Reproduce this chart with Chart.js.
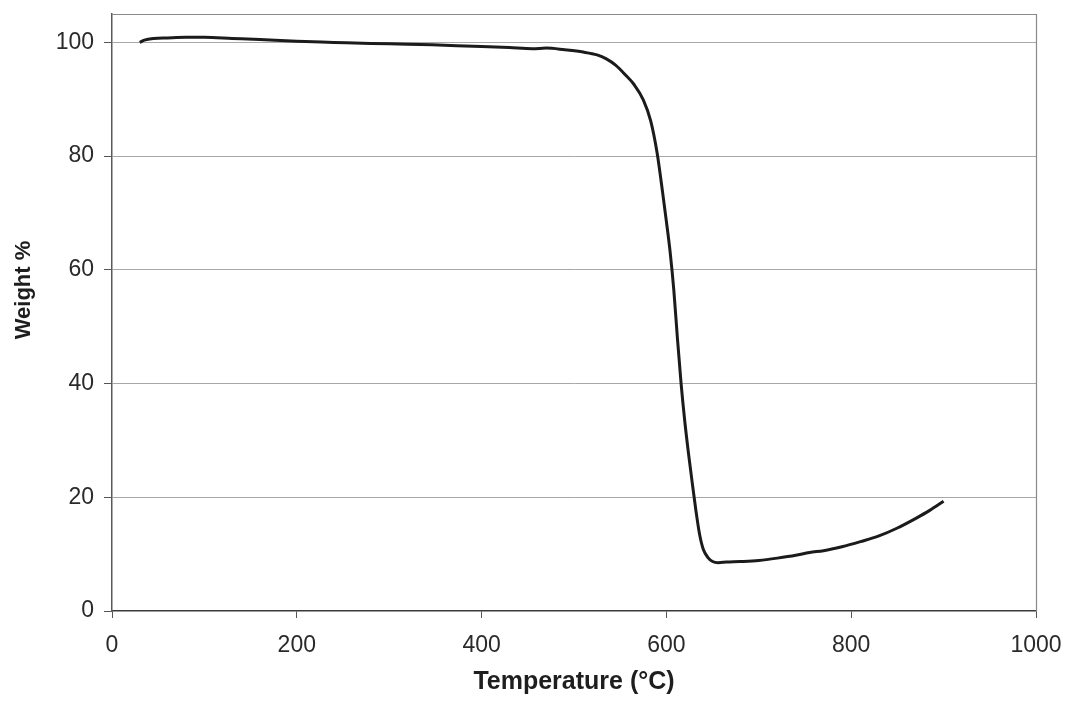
<!DOCTYPE html>
<html>
<head>
<meta charset="utf-8">
<script src="https://cdn.jsdelivr.net/npm/chart.js@4.4.1/dist/chart.umd.min.js"></script>
<style>
html,body{margin:0;padding:0;background:#fff;}
#wrap{width:1067px;height:705px;}
</style>
</head>
<body>
<div id="wrap"><canvas id="c" width="1067" height="705"></canvas></div>
<script>
const temperatures = [30, 35, 45, 60, 80, 100, 130, 160, 200, 240, 280, 320, 360, 400, 430, 455, 470, 490, 510, 525, 535, 545, 555, 565, 575, 583, 590, 596, 600, 604, 608, 612, 616, 620, 624, 628, 632, 636, 640, 645, 650, 656, 665, 680, 700, 720, 740, 755, 770, 790, 810, 830, 850, 870, 885, 900];
const weights = [100.0, 100.4, 100.7, 100.8, 100.9, 100.9, 100.7, 100.5, 100.2, 100.0, 99.8, 99.7, 99.5, 99.3, 99.1, 98.9, 99.0, 98.7, 98.3, 97.8, 97.1, 96.0, 94.4, 92.6, 89.9, 86.2, 80.5, 73.5, 68.5, 63.2, 56.5, 47.8, 39.8, 33.2, 27.6, 22.5, 17.6, 13.4, 10.8, 9.4, 8.7, 8.5, 8.6, 8.7, 8.9, 9.3, 9.8, 10.3, 10.6, 11.3, 12.2, 13.2, 14.6, 16.3, 17.7, 19.3];
const xTicks = [0, 200, 400, 600, 800, 1000];
const yTicks = [0, 20, 40, 60, 80, 100];
const xTitle = 'Temperature (°C)';
const yTitle = 'Weight %';

const points = temperatures.map((t, i) => ({x: t, y: weights[i]}));

const frame = {
  id: 'frame',
  afterDraw(chart) {
    const {ctx, chartArea: a} = chart;
    ctx.save();
    ctx.strokeStyle = '#8a8a8a';
    ctx.lineWidth = 1.2;
    ctx.beginPath();
    ctx.moveTo(a.left, a.top + 0.5);
    ctx.lineTo(a.right + 0.5, a.top + 0.5);
    ctx.lineTo(a.right + 0.5, a.bottom);
    ctx.stroke();
    ctx.translate(24, 290);
    ctx.rotate(-Math.PI / 2);
    ctx.fillStyle = '#1e1e1e';
    ctx.font = 'bold 22px "Liberation Sans", Arial, sans-serif';
    ctx.textAlign = 'center';
    ctx.textBaseline = 'middle';
    ctx.fillText(yTitle, 0, 0);
    ctx.restore();
  }
};

new Chart(document.getElementById('c'), {
  type: 'line',
  data: {
    datasets: [{
      data: points,
      borderColor: '#1b1b1b',
      borderWidth: 3,
      pointRadius: 0,
      cubicInterpolationMode: 'monotone',
      fill: false
    }]
  },
  options: {
    responsive: false,
    animation: false,
    layout: {padding: {top: 14, right: 31, left: 0, bottom: 0}},
    plugins: {legend: {display: false}, tooltip: {enabled: false}},
    scales: {
      x: {
        type: 'linear',
        min: 0, max: 1000,
        afterBuildTicks(s) { s.ticks = xTicks.map(v => ({value: v})); },
        afterFit(s) { s.height = 94; s.paddingLeft = 0; s.paddingRight = 0; },
        grid: {drawOnChartArea: false, drawTicks: true, tickLength: 7, tickColor: '#555', tickWidth: 1},
        border: {display: true, color: '#3a3a3a', width: 1.5},
        ticks: {color: '#2a2a2a', padding: 14, maxRotation: 0, callback: (v) => String(v), font: {family: '"Liberation Sans", Arial, sans-serif', size: 23}},
        title: {display: true, text: xTitle, color: '#1e1e1e', padding: {top: 0, bottom: 8}, font: {family: '"Liberation Sans", Arial, sans-serif', size: 25, weight: 'bold'}}
      },
      y: {
        type: 'linear',
        min: 0, max: 105,
        afterBuildTicks(s) { s.ticks = yTicks.map(v => ({value: v})); },
        afterFit(s) { s.width = 112; s.paddingTop = 0; s.paddingBottom = 0; },
        grid: {color: (c) => c.tick && c.tick.value === 0 ? 'rgba(0,0,0,0)' : '#a8a8a8', lineWidth: 1, drawTicks: true, tickLength: 8, tickColor: '#555'},
        border: {display: true, color: '#5a5a5a', width: 1.5},
        ticks: {color: '#2a2a2a', padding: 10, font: {family: '"Liberation Sans", Arial, sans-serif', size: 23}},
        title: {display: false}
      }
    }
  },
  plugins: [frame]
});
</script>
</body>
</html>
